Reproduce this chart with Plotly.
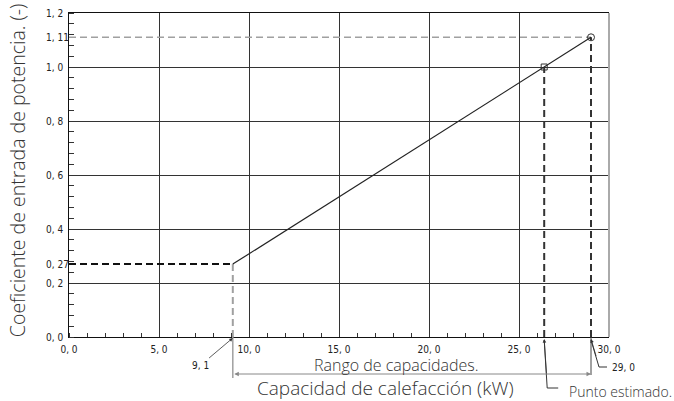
import plotly.graph_objects as go

# ---- data ----
cap_x = [9.1, 29.0]            # capacidad de calefacción (kW)
coef_y = [0.27, 1.11]          # coeficiente de entrada de potencia
est_x = [26.4]                 # punto estimado
est_y = [1.0]
xtick_vals = [0, 5, 10, 15, 20, 25, 30]
xtick_text = ["0, 0", "5, 0", "10, 0", "15, 0", "20, 0", "25, 0", "30, 0"]
ytick_vals = [0, 0.2, 0.4, 0.6, 0.8, 1.0, 1.2]
ytick_text = ["0, 0", "0, 2", "0, 4", "0, 6", "0, 8", "1, 0", "1, 2"]
yref_vals = [0.27, 1.11]
yref_text = ["0, 27", "1, 11"]
xref_text = ["9, 1", "29, 0"]

TICKFONT = dict(family="Liberation Sans Narrow, DejaVu Sans Condensed, sans-serif", size=10, color="#222")
TEXTFONT = "Open Sans, Noto Sans, sans-serif"
DASH = "7px,4px"

fig = go.Figure()

# reference dashed lines
fig.add_trace(go.Scatter(x=[0, cap_x[0]], y=[coef_y[0], coef_y[0]], mode="lines",
                         line=dict(color="#111", width=2, dash=DASH), hoverinfo="skip"))
fig.add_trace(go.Scatter(x=[0, cap_x[1]], y=[coef_y[1], coef_y[1]], mode="lines",
                         line=dict(color="#a0a0a0", width=1.5, dash=DASH), hoverinfo="skip"))
fig.add_trace(go.Scatter(x=[cap_x[0], cap_x[0]], y=[0, coef_y[0]], mode="lines",
                         line=dict(color="#a0a0a0", width=2, dash=DASH), hoverinfo="skip"))
fig.add_trace(go.Scatter(x=[est_x[0], est_x[0]], y=[0, est_y[0]], mode="lines",
                         line=dict(color="#333", width=2, dash=DASH), hoverinfo="skip"))
fig.add_trace(go.Scatter(x=[cap_x[1], cap_x[1]], y=[0, coef_y[1]], mode="lines",
                         line=dict(color="#333", width=2, dash=DASH), hoverinfo="skip"))
# main line
fig.add_trace(go.Scatter(x=cap_x, y=coef_y, mode="lines", line=dict(color="#222", width=1.2)))
# markers
fig.add_trace(go.Scatter(x=[cap_x[1]], y=[coef_y[1]], mode="markers",
                         marker=dict(symbol="circle-open", size=7, color="#333", line=dict(width=1))))
fig.add_trace(go.Scatter(x=est_x, y=est_y, mode="markers",
                         marker=dict(symbol="square-open", size=6, color="#333", line=dict(width=1))))

shapes = []
# right border
shapes.append(dict(type="line", xref="paper", yref="paper", x0=1, x1=1, y0=0, y1=1,
                   line=dict(color="#aaaaaa", width=2)))
# extensions below axis
shapes.append(dict(type="line", xref="x", yref="paper", x0=cap_x[0], x1=cap_x[0],
                   ysizemode="pixel", yanchor=0, y0=0, y1=-41, line=dict(color="#a0a0a0", width=1.5)))
shapes.append(dict(type="line", xref="x", yref="paper", x0=cap_x[1], x1=cap_x[1],
                   ysizemode="pixel", yanchor=0, y0=0, y1=-38, line=dict(color="#444", width=1)))
# 29,0 leader
shapes.append(dict(type="path", xref="x", yref="paper", xsizemode="pixel", xanchor=cap_x[1],
                   ysizemode="pixel", yanchor=0, path="M 0,-3 L 8,-30 L 16,-30",
                   line=dict(color="#333", width=1)))
# punto estimado leader
shapes.append(dict(type="path", xref="x", yref="paper", xsizemode="pixel", xanchor=est_x[0],
                   ysizemode="pixel", yanchor=0, path="M 0,-3 L 3,-51 L 14,-51",
                   line=dict(color="#333", width=1)))

ann = []
# y tick labels (left aligned)
for v, t in zip(ytick_vals + yref_vals, ytick_text + yref_text):
    ann.append(dict(x=0, xref="paper", xshift=-25, xanchor="left", y=v, yref="y", yanchor="middle",
                    text=t, showarrow=False, font=TICKFONT))
# 9,1 leader with arrow
ann.append(dict(x=cap_x[0], y=0, xref="x", yref="y", text=xref_text[0], showarrow=True,
                ax=-32, ay=27, arrowhead=2, arrowsize=0.9, arrowwidth=0.8, arrowcolor="#333",
                font=TICKFONT, yshift=-1))
# 29,0 arrowhead + label
ann.append(dict(x=cap_x[1], y=0, xref="x", yref="y", text=" ", showarrow=True,
                ax=8, ay=27, arrowhead=2, arrowsize=0.9, arrowwidth=0.8, arrowcolor="#333", yshift=-2))
ann.append(dict(x=cap_x[1], y=0, xref="x", yref="paper", xanchor="left", yanchor="middle",
                xshift=19, yshift=-30, text=xref_text[1], showarrow=False, font=TICKFONT))
# punto estimado arrowhead + text
ann.append(dict(x=est_x[0], y=0, xref="x", yref="y", text=" ", showarrow=True,
                ax=3, ay=46, arrowhead=2, arrowsize=0.9, arrowwidth=0.8, arrowcolor="#333", yshift=-2))
ann.append(dict(x=est_x[0], y=0, xref="x", yref="paper", xanchor="left", yanchor="middle",
                xshift=23, yshift=-54, text="Punto estimado.", showarrow=False,
                font=dict(family=TEXTFONT, size=14, color="#333", weight=300)))
# rango double arrow
ann.append(dict(x=cap_x[1], y=0, xref="x", yref="paper", yshift=-37, ax=cap_x[0], axref="x",
                ay=0, ayref="pixel", text="", showarrow=True, arrowside="end+start",
                arrowhead=2, arrowsize=0.9, arrowwidth=1, arrowcolor="#888"))
ann.append(dict(x=0.607, xref="paper", xanchor="center", y=0, yref="paper", yanchor="middle",
                yshift=-28, text="Rango de capacidades.",
                showarrow=False, font=dict(family=TEXTFONT, size=16, color="#333", weight=300)))
# axis titles
ann.append(dict(x=0.587, xref="paper", xanchor="center", y=0, yref="paper", yanchor="middle",
                yshift=-51, text="Capacidad de calefacción (kW)", showarrow=False,
                font=dict(family=TEXTFONT, size=19, color="#333", weight=300)))
ann.append(dict(x=0, xref="paper", xanchor="center", xshift=-52, y=0.515, yref="paper",
                yanchor="middle", textangle=-90,
                text="Coeficiente de entrada de potencia. (-)", showarrow=False,
                font=dict(family=TEXTFONT, size=19.5, color="#333", weight=300)))

fig.update_layout(
    width=674, height=401, margin=dict(l=69, r=65, t=13, b=64, autoexpand=False),
    paper_bgcolor="white", plot_bgcolor="white", showlegend=False,
    shapes=shapes, annotations=ann,
    xaxis=dict(range=[0, 30], tickvals=xtick_vals, ticktext=xtick_text, tickfont=TICKFONT,
               showgrid=True, gridcolor="#333", gridwidth=1, zeroline=False,
               showline=True, linecolor="#111", linewidth=1, mirror=True, ticks="",
               ticklabelstandoff=3,
               minor=dict(ticks="inside", dtick=1, tick0=0, ticklen=4, tickcolor="#333", showgrid=False)),
    yaxis=dict(range=[0, 1.2], tickvals=ytick_vals, showticklabels=False,
               showgrid=True, gridcolor="#333", gridwidth=1, zeroline=False,
               showline=True, linecolor="#111", linewidth=1, ticks="",
               minor=dict(ticks="inside", dtick=0.04, tick0=0, ticklen=5, tickcolor="#333", showgrid=False)),
)

fig.write_html("out.html", config={"displayModeBar": False},
               post_script="document.body.style.margin='0';document.body.style.overflow='hidden';")
